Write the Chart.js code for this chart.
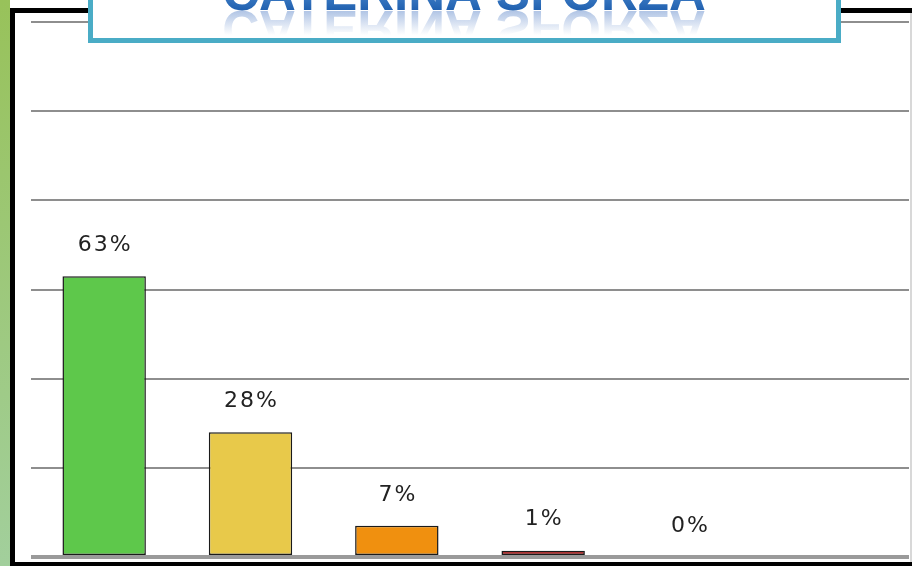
<!DOCTYPE html>
<html>
<head>
<meta charset="utf-8">
<script src="https://cdn.jsdelivr.net/npm/chart.js@4"></script>
<style>
  html, body { margin: 0; padding: 0; background: #fff; }
  #wrap { width: 912px; height: 566px; position: relative; }
</style>
</head>
<body>
<div id="wrap"><canvas id="chart" width="912" height="566"></canvas></div>
<script>
const titleText = "CATERINA SFORZA"
const categories = ["1", "2", "3", "4", "5", "6"]
const values = [63, 28, 7, 1.4, 0, null]
const valueLabels = ["63%", "28%", "7%", "1%", "0%", ""]
const barColors = ["#5ec84b", "#e8c94a", "#f0900f", "#a50000", "#cccccc", "#cccccc"]
const yTicks = [0, 20, 40, 60, 80, 100, 120]

// frame, green strip and the cut-off title box
const decor = {
  id: "decor",
  beforeDraw(chart) {
    const ctx = chart.ctx
    ctx.save()
    ctx.fillStyle = "#fff"
    ctx.fillRect(0, 0, 912, 566)
    const g = ctx.createLinearGradient(0, 0, 0, 566)
    g.addColorStop(0, "#98c25a")
    g.addColorStop(1, "#a2cf9c")
    ctx.fillStyle = g
    ctx.fillRect(0, 0, 10, 566)
    ctx.fillStyle = "#000"
    ctx.fillRect(10, 8, 902, 5)
    ctx.fillRect(10, 8, 5, 558)
    ctx.fillRect(10, 562, 902, 4)
    ctx.fillStyle = "#d8d8d8"
    ctx.fillRect(910, 13, 2, 549)
    ctx.restore()
  },
  afterDraw(chart) {
    const ctx = chart.ctx
    ctx.save()
    ctx.fillStyle = "#fff"
    ctx.fillRect(88, 0, 753, 43)
    ctx.strokeStyle = "#4aacc6"
    ctx.lineWidth = 5
    ctx.strokeRect(90.5, -10, 748, 50.5)
    ctx.beginPath()
    ctx.rect(93, 0, 743, 38)
    ctx.clip()
    ctx.font = "bold 51px 'Liberation Sans', Arial, sans-serif"
    ctx.textAlign = "center"
    ctx.textBaseline = "alphabetic"
    const tg = ctx.createLinearGradient(0, -30, 0, 11)
    tg.addColorStop(0, "#6aa8e8")
    tg.addColorStop(1, "#1f5fae")
    ctx.fillStyle = tg
    ctx.fillText(titleText, 464, 10)
    ctx.translate(0, 21)
    ctx.scale(1, -1)
    const rg = ctx.createLinearGradient(0, 10, 0, -14)
    rg.addColorStop(0, "rgba(60,110,190,0.4)")
    rg.addColorStop(1, "rgba(60,110,190,0)")
    ctx.fillStyle = rg
    ctx.fillText(titleText, 464, 10)
    ctx.restore()
  }
}

// percentage labels above bars
const barLabels = {
  id: "barLabels",
  afterDatasetsDraw(chart) {
    const ctx = chart.ctx
    const meta = chart.getDatasetMeta(0)
    ctx.save()
    ctx.font = "22px 'DejaVu Sans', Verdana, sans-serif"
    ctx.letterSpacing = "2px"
    ctx.fillStyle = "#222"
    ctx.textAlign = "center"
    ctx.textBaseline = "middle"
    meta.data.forEach((bar, i) => {
      if (values[i] == null) return
      ctx.fillText(valueLabels[i], bar.x + 1, bar.y - 31)
    })
    ctx.restore()
  }
}

new Chart(document.getElementById("chart"), {
  type: "bar",
  data: {
    labels: categories,
    datasets: [{
      data: values,
      backgroundColor: barColors,
      borderColor: "#1a1a1a",
      borderWidth: 1.5,
      borderSkipped: false,
      categoryPercentage: 1,
      barPercentage: 0.57
    }]
  },
  options: {
    responsive: false,
    animation: false,
    layout: { padding: { left: 31, right: 3, top: 22, bottom: 9 } },
    plugins: { legend: { display: false }, tooltip: { enabled: false } },
    scales: {
      x: {
        ticks: { display: false },
        grid: { display: false },
        border: { display: false },
        afterFit: s => { s.height = 0 }
      },
      y: {
        min: 0,
        max: 120,
        afterBuildTicks: s => { s.ticks = yTicks.map(v => ({ value: v })) },
        ticks: { display: false },
        border: { display: false },
        grid: {
          color: ctx => ctx.tick.value === 0 ? "#9a9a9a" : "#8e8e8e",
          lineWidth: ctx => ctx.tick.value === 0 ? 4 : 2,
          drawTicks: false
        },
        afterFit: s => { s.width = 0 }
      }
    }
  },
  plugins: [decor, barLabels]
})
</script>
</body>
</html>
